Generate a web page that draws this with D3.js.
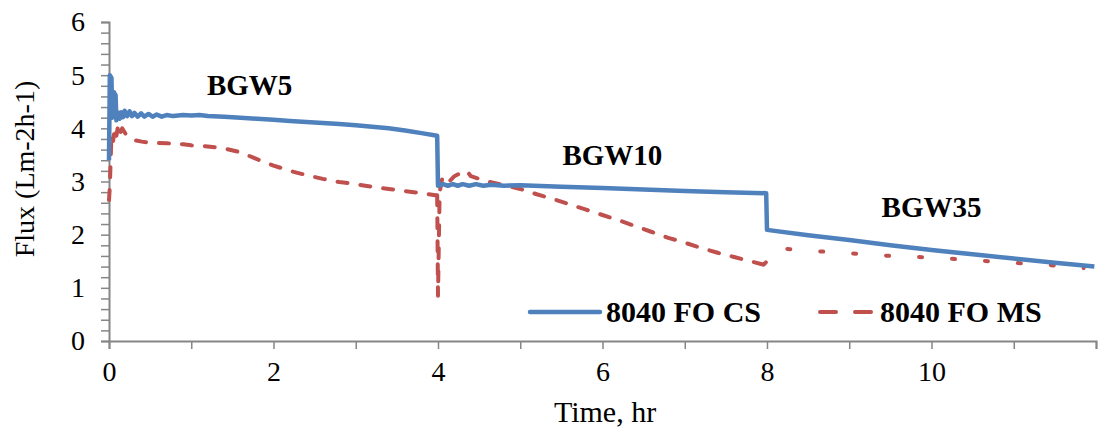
<!DOCTYPE html>
<html>
<head>
<meta charset="utf-8">
<script src="https://cdn.jsdelivr.net/npm/d3@7"></script>
<style>
  body { margin: 0; background: #fff; }
  svg text { font-family: "Liberation Serif", "Times New Roman", serif; fill: #000; }
</style>
</head>
<body>
<svg id="chart" width="1099" height="432"></svg>
<script>
// flux, 8040 FO CS  [time hr, flux]
var csData = [
  [0, 3.4], [0.01, 5.0], [0.03, 4.95], [0.04, 4.2], [0.06, 4.68], [0.08, 4.62], [0.09, 4.15],
  [0.11, 4.3], [0.13, 4.18], [0.15, 4.3], [0.17, 4.21], [0.19, 4.33], [0.22, 4.23], [0.25, 4.32],
  [0.28, 4.23], [0.31, 4.29], [0.35, 4.22], [0.39, 4.28], [0.43, 4.22], [0.48, 4.27], [0.53, 4.22],
  [0.58, 4.26], [0.64, 4.22], [0.7, 4.25], [0.78, 4.23], [0.9, 4.25], [1.0, 4.24], [1.1, 4.25],
  [1.2, 4.23], [1.4, 4.22], [1.6, 4.2], [1.8, 4.18], [2.0, 4.16], [2.2, 4.14], [2.4, 4.12],
  [2.6, 4.1], [2.8, 4.08], [3.0, 4.06], [3.2, 4.03], [3.4, 4.0], [3.6, 3.96], [3.8, 3.91],
  [3.99, 3.86],
  [4.0, 2.92], [4.06, 2.95], [4.12, 2.92], [4.18, 2.95], [4.24, 2.92], [4.3, 2.95], [4.38, 2.92],
  [4.46, 2.95], [4.55, 2.92], [4.65, 2.94], [4.8, 2.92], [5.0, 2.93], [5.5, 2.9], [6.0, 2.88],
  [6.5, 2.85], [7.0, 2.82], [7.5, 2.8], [7.99, 2.78],
  [8.0, 2.09], [8.5, 1.99], [9.0, 1.9], [9.5, 1.8], [10.0, 1.71], [10.5, 1.63], [11.0, 1.55],
  [11.5, 1.47], [11.98, 1.4]
];

// flux, 8040 FO MS, one array per feed stage
var msStage1 = [
  [0, 2.65], [0.01, 2.9], [0.02, 3.4], [0.03, 3.88], [0.05, 3.76], [0.07, 4.02], [0.09, 3.86],
  [0.11, 4.05], [0.13, 3.9], [0.16, 4.0], [0.2, 3.9], [0.25, 3.84], [0.3, 3.78], [0.4, 3.75],
  [0.5, 3.73], [0.7, 3.72], [0.9, 3.7], [1.0, 3.68], [1.2, 3.66], [1.4, 3.62], [1.6, 3.55],
  [1.8, 3.42], [2.0, 3.3], [2.2, 3.2], [2.4, 3.12], [2.6, 3.05], [2.8, 2.99], [3.0, 2.95],
  [3.2, 2.9], [3.4, 2.86], [3.6, 2.82], [3.8, 2.78], [3.97, 2.74]
];
var msStage2 = [
  [3.99, 2.74], [4.0, 0.85], [4.02, 2.8], [4.05, 3.05], [4.1, 3.12], [4.15, 3.02], [4.2, 3.1],
  [4.3, 3.18], [4.35, 3.2], [4.4, 3.1], [4.5, 3.05], [4.6, 3.0], [4.8, 2.93], [5.0, 2.86],
  [5.2, 2.76], [5.4, 2.67], [5.6, 2.57], [5.8, 2.47], [6.0, 2.37], [6.2, 2.27], [6.4, 2.16],
  [6.6, 2.05], [6.8, 1.94], [7.0, 1.85], [7.2, 1.75], [7.4, 1.66], [7.6, 1.58], [7.8, 1.5],
  [7.95, 1.44]
];
var msStage3 = [
  [7.96, 1.44], [8.0, 1.5], [8.05, 1.7], [8.1, 1.75], [8.5, 1.7], [9.0, 1.65], [9.5, 1.6],
  [10.0, 1.57], [10.5, 1.52], [11.0, 1.47], [11.5, 1.42], [11.85, 1.37]
];

var stageLabels = [
  { text: "BGW5",  t: 1.71, v: 4.63 },
  { text: "BGW10", t: 6.12, v: 3.31 },
  { text: "BGW35", t: 10.0, v: 2.33 }
];
var seriesNames = ["8040 FO CS", "8040 FO MS"];
var xTickLabels = [0, 2, 4, 6, 8, 10];
var yTickLabels = [0, 1, 2, 3, 4, 5, 6];

var blue = "#4F81BD", red = "#C0504D", axisGrey = "#868686";

var svg = d3.select("#chart");

var x = d3.scaleLinear().domain([0, 12]).range([109, 1096]);
var y = d3.scaleLinear().domain([0, 6]).range([341, 22]);

// y axis
var yAxis = d3.axisLeft(y)
  .tickValues(d3.range(0, 6.01, 0.2))
  .tickSize(8)
  .tickFormat(function(d) {
    var r = Math.round(d * 10) / 10;
    return yTickLabels.indexOf(r) >= 0 ? r : "";
  });
var gy = svg.append("g").attr("transform", "translate(" + x(0) + ",0)").call(yAxis);
gy.select(".domain").attr("stroke", axisGrey).attr("stroke-width", 2);
gy.selectAll(".tick line").attr("stroke", axisGrey).attr("stroke-width", 1.5);
gy.selectAll(".tick text")
  .attr("x", -24)
  .style("font-size", "28px")
  .style("font-family", "Liberation Serif");

// x axis
var xAxis = d3.axisBottom(x)
  .tickValues(d3.range(0, 13, 1))
  .tickSize(8)
  .tickFormat(function(d) { return xTickLabels.indexOf(d) >= 0 ? d : ""; });
var gx = svg.append("g").attr("transform", "translate(0," + y(0) + ")").call(xAxis);
gx.select(".domain").attr("stroke", axisGrey).attr("stroke-width", 2);
gx.selectAll(".tick line").attr("stroke", axisGrey).attr("stroke-width", 1.5);
gx.selectAll(".tick text")
  .attr("y", 20)
  .style("font-size", "28px")
  .style("font-family", "Liberation Serif");

// axis titles
svg.append("text")
  .attr("x", 605).attr("y", 422)
  .attr("text-anchor", "middle")
  .style("font-size", "30px")
  .text("Time, hr");

svg.append("text")
  .attr("transform", "translate(34,169) rotate(-90)")
  .attr("text-anchor", "middle")
  .style("font-size", "28px")
  .text("Flux (Lm-2h-1)");

// lines
var line = d3.line()
  .x(function(d) { return x(d[0]); })
  .y(function(d) { return y(d[1]); });

var msStages = [
  { data: msStage1, dash: "10,13" },
  { data: msStage2, dash: "10,13" },
  { data: msStage3, dash: "3,30" }
];
svg.selectAll(".ms")
  .data(msStages)
  .enter().append("path")
  .attr("class", "ms")
  .attr("d", function(d) { return line(d.data); })
  .attr("fill", "none")
  .attr("stroke", red)
  .attr("stroke-width", 4)
  .attr("stroke-linecap", "round")
  .attr("stroke-linejoin", "round")
  .attr("stroke-dasharray", function(d) { return d.dash; });

svg.append("path")
  .attr("d", line(csData))
  .attr("fill", "none")
  .attr("stroke", blue)
  .attr("stroke-width", 4.5)
  .attr("stroke-linejoin", "round");

// stage labels
svg.selectAll(".stage")
  .data(stageLabels)
  .enter().append("text")
  .attr("class", "stage")
  .attr("x", function(d) { return x(d.t); })
  .attr("y", function(d) { return y(d.v); })
  .attr("text-anchor", "middle")
  .style("font-size", "29px")
  .style("font-weight", "bold")
  .text(function(d) { return d.text; });

// legend
var legend = svg.append("g").attr("transform", "translate(530,312)");
legend.append("line")
  .attr("x1", 0).attr("x2", 70).attr("y1", 0).attr("y2", 0)
  .attr("stroke", blue).attr("stroke-width", 4.5).attr("stroke-linecap", "round");
legend.append("text")
  .attr("x", 76).attr("y", 10)
  .style("font-size", "30px").style("font-weight", "bold")
  .text(seriesNames[0]);
legend.append("line")
  .attr("x1", 290).attr("x2", 343).attr("y1", 0).attr("y2", 0)
  .attr("stroke", red).attr("stroke-width", 4).attr("stroke-linecap", "round")
  .attr("stroke-dasharray", "16,19");
legend.append("text")
  .attr("x", 350).attr("y", 10)
  .style("font-size", "30px").style("font-weight", "bold")
  .text(seriesNames[1]);
</script>
</body>
</html>
